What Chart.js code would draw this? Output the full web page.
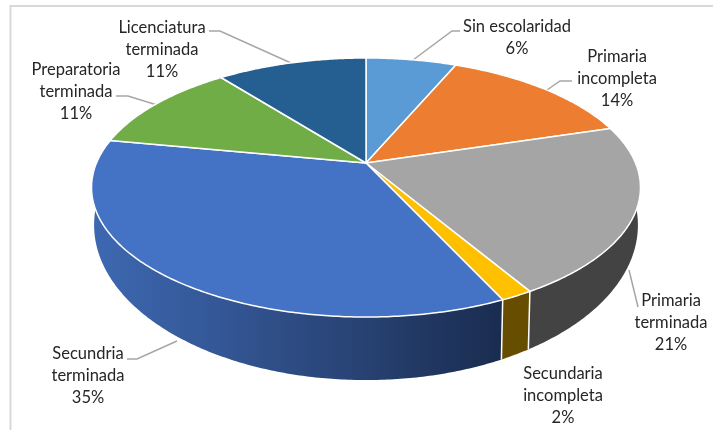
<!DOCTYPE html>
<html>
<head>
<meta charset="utf-8">
<title>Escolaridad</title>
<script src="https://cdn.jsdelivr.net/npm/chart.js@4"></script>
<style>
    html, body { margin: 0; padding: 0; background: #fff; }
    canvas { display: block; }
</style>
</head>
<body>
<canvas id="chart" width="713" height="430"></canvas>
<script>
// Data
const categories = [
    ['Sin escolaridad'],
    ['Primaria', 'incompleta'],
    ['Primaria', 'terminada'],
    ['Secundaria', 'incompleta'],
    ['Secundria', 'terminada'],
    ['Preparatoria', 'terminada'],
    ['Licenciatura', 'terminada']
];
const shares = [6.4, 13.9, 21.2, 1.6, 34.9, 11.4, 10.6];
const sliceColors = ['#5b9bd5', '#ed7d31', '#a5a5a5', '#ffc000', '#4472c4', '#70ad47', '#255e91'];
const wallColors = ['#37608a', '#8e4b1d', '#434343', '#664d00', null, '#43682b', '#163857'];

// Label placement: centre x, y of first line
const labelAnchors = [[517, 27], [617, 57], [671, 301], [563, 374], [88, 354], [76, 70], [162, 28]];
const leaderLines = [
    [[460, 31], [452, 31], [413, 60]],
    [[572, 81], [560, 81], [547, 90]],
    [[638, 307], [629, 270]],
    [],
    [[127, 359], [137, 359], [177, 341]],
    [[116, 96], [128, 96], [157, 105]],
    [[209, 31], [220, 31], [291, 63]]
];

// Perspective of the top and bottom discs of the pie
const topDisc = { cx: 366, cy: 163, a: 124.9, b: 269.5, p: 0.1892 };
const bottomDisc = { cx: 366, cy: 195.7, a: 149.5, b: 267, p: 0.1892 };

function project(disc, angle) {
    const u = Math.cos(angle);
    const v = -Math.sin(angle);
    const d = 1 + disc.p * v;
    return [disc.cx + disc.b * u / d, disc.cy - disc.a * v / d];
}

function traceEdge(ctx, disc, from, to) {
    const steps = Math.max(2, Math.ceil(Math.abs(to - from) / 0.01));
    for (let i = 0; i <= steps; i++) {
        const pt = project(disc, from + (to - from) * i / steps);
        ctx.lineTo(pt[0], pt[1]);
    }
}

function wallFill(ctx, index) {
    if (wallColors[index]) return wallColors[index];
    const grad = ctx.createLinearGradient(95, 0, 500, 0);
    grad.addColorStop(0, '#3d68b1');
    grad.addColorStop(0.3, '#345796');
    grad.addColorStop(0.7, '#263f6e');
    grad.addColorStop(1, '#1a2c50');
    return grad;
}

// Replaces the flat arcs with a 3D pie, angles come from the pie controller
const pie3d = {
    id: 'pie3d',
    beforeDatasetsDraw(chart) {
        const ctx = chart.ctx;
        const arcs = chart.getDatasetMeta(0).data;

        ctx.save();

        // Frame
        ctx.strokeStyle = '#d9d9d9';
        ctx.lineWidth = 2;
        ctx.beginPath();
        ctx.moveTo(713, 6);
        ctx.lineTo(10.5, 6);
        ctx.lineTo(10.5, 430);
        ctx.stroke();

        // Leader lines
        ctx.strokeStyle = '#a6a6a6';
        ctx.lineWidth = 1.5;
        leaderLines.forEach(line => {
            if (!line.length) return;
            ctx.beginPath();
            line.forEach((pt, i) => i ? ctx.lineTo(pt[0], pt[1]) : ctx.moveTo(pt[0], pt[1]));
            ctx.stroke();
        });

        // Walls
        arcs.forEach((arc, i) => {
            ctx.beginPath();
            traceEdge(ctx, topDisc, arc.startAngle, arc.endAngle);
            traceEdge(ctx, bottomDisc, arc.endAngle, arc.startAngle);
            ctx.closePath();
            ctx.fillStyle = wallFill(ctx, i);
            ctx.fill();
        });

        // White joints between the front walls
        ctx.strokeStyle = '#fff';
        ctx.lineWidth = 1.5;
        arcs.forEach(arc => {
            if (Math.sin(arc.endAngle) < 0.2) return;
            const a = project(topDisc, arc.endAngle);
            const b = project(bottomDisc, arc.endAngle);
            ctx.beginPath();
            ctx.moveTo(a[0], a[1]);
            ctx.lineTo(b[0], b[1]);
            ctx.stroke();
        });

        // Top faces
        arcs.forEach((arc, i) => {
            ctx.beginPath();
            ctx.moveTo(topDisc.cx, topDisc.cy);
            traceEdge(ctx, topDisc, arc.startAngle, arc.endAngle);
            ctx.closePath();
            ctx.fillStyle = sliceColors[i];
            ctx.fill();
            ctx.strokeStyle = '#fff';
            ctx.lineWidth = 1.5;
            ctx.lineJoin = 'round';
            ctx.stroke();
        });

        // Labels
        const total = shares.reduce((sum, v) => sum + v, 0);
        ctx.fillStyle = '#262626';
        ctx.font = '16.5px Lato, sans-serif';
        ctx.textAlign = 'center';
        ctx.textBaseline = 'middle';
        categories.forEach((lines, i) => {
            const text = lines.concat(Math.round(shares[i] / total * 100) + '%');
            text.forEach((line, k) => {
                ctx.fillText(line, labelAnchors[i][0], labelAnchors[i][1] + k * 21.7);
            });
        });

        ctx.restore();
        return false;
    }
};

new Chart(document.getElementById('chart'), {
    type: 'pie',
    data: {
        labels: categories,
        datasets: [{ data: shares, backgroundColor: sliceColors }]
    },
    options: {
        responsive: false,
        animation: false,
        events: [],
        plugins: {
            legend: { display: false },
            tooltip: { enabled: false }
        }
    },
    plugins: [pie3d]
});
</script>
</body>
</html>
